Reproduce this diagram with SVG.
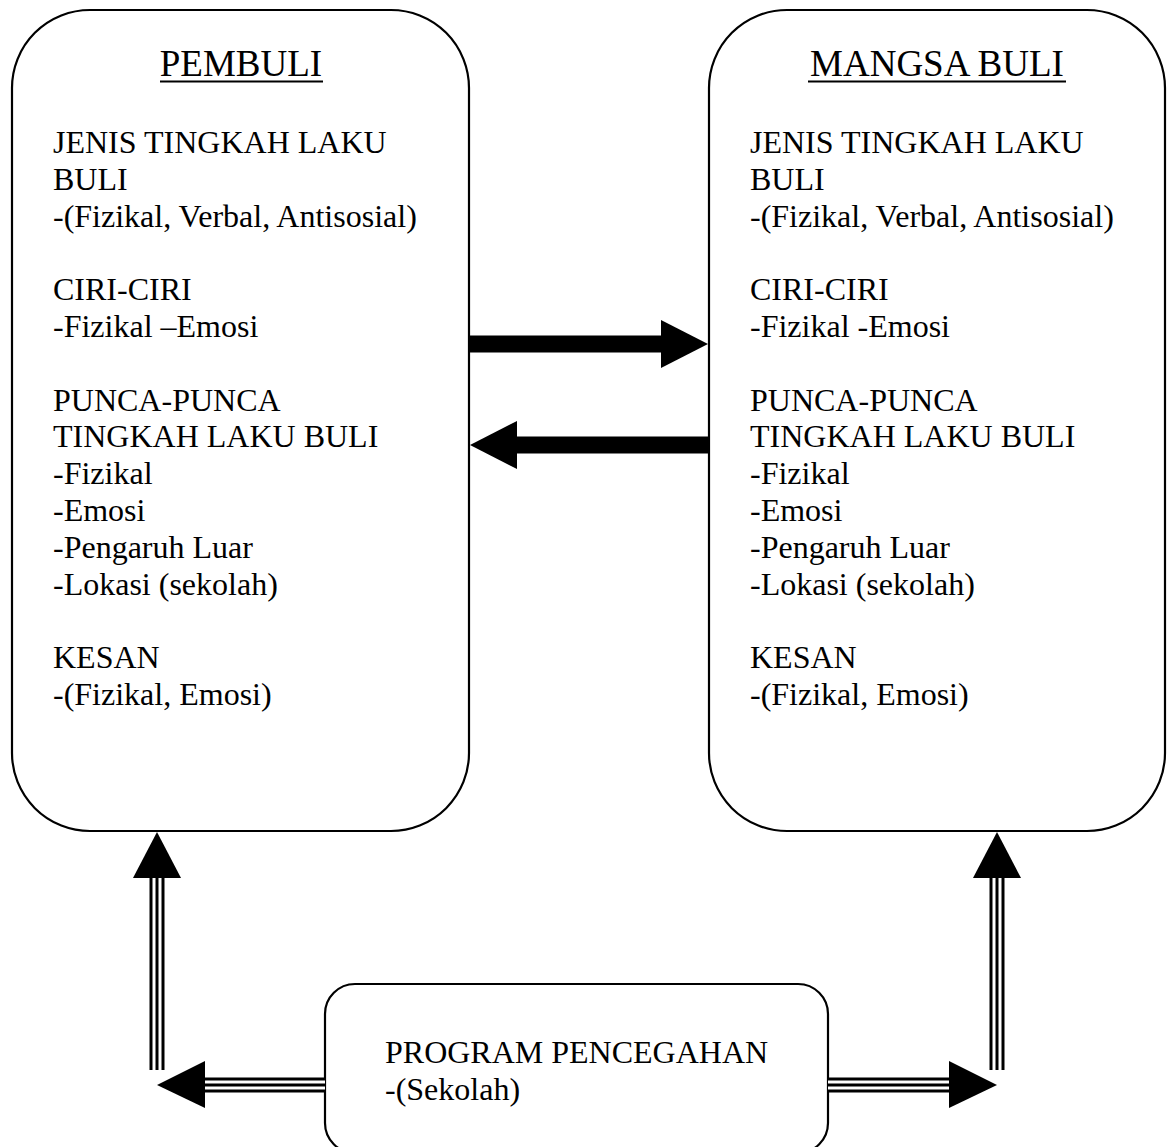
<svg xmlns="http://www.w3.org/2000/svg" width="1171" height="1147" viewBox="0 0 1171 1147">
<style>
.box{fill:#fff;stroke:#000;stroke-width:2.2}
.t{font-family:"Liberation Serif","Times New Roman",serif;font-size:32px;fill:#000}
.title{font-family:"Liberation Serif","Times New Roman",serif;font-size:37px;fill:#000;text-anchor:middle}
.ul{stroke:#000;stroke-width:2}
.tb{fill:none;stroke:#000;stroke-width:15}
.tw{fill:none;stroke:#fff;stroke-width:9}
.tc{fill:none;stroke:#000;stroke-width:3}
.head{fill:#000}
</style>
<rect width="1171" height="1147" fill="#fff"/>
<g id="pembuli">
<rect class="box" x="12" y="10" width="457" height="821" rx="78" ry="78"/>
<text class="title" x="241" y="76">PEMBULI</text>
<line class="ul" x1="160" y1="81.5" x2="323" y2="81.5"/>
<text class="t" x="53" y="153">
<tspan x="53" y="153">JENIS TINGKAH LAKU</tspan>
<tspan x="53" y="189.8">BULI</tspan>
<tspan x="53" y="226.6">-(Fizikal, Verbal, Antisosial)</tspan>
<tspan x="53" y="300.2">CIRI-CIRI</tspan>
<tspan x="53" y="337">-Fizikal –Emosi</tspan>
<tspan x="53" y="410.6">PUNCA-PUNCA</tspan>
<tspan x="53" y="447.4">TINGKAH LAKU BULI</tspan>
<tspan x="53" y="484.2">-Fizikal</tspan>
<tspan x="53" y="521">-Emosi</tspan>
<tspan x="53" y="557.8">-Pengaruh Luar</tspan>
<tspan x="53" y="594.6">-Lokasi (sekolah)</tspan>
<tspan x="53" y="668.2">KESAN</tspan>
<tspan x="53" y="705">-(Fizikal, Emosi)</tspan>
</text>
</g>
<g id="mangsa">
<rect class="box" x="709" y="10" width="456" height="821" rx="78" ry="78"/>
<text class="title" x="937" y="76">MANGSA BULI</text>
<line class="ul" x1="808" y1="81.5" x2="1066" y2="81.5"/>
<text class="t" x="750" y="153">
<tspan x="750" y="153">JENIS TINGKAH LAKU</tspan>
<tspan x="750" y="189.8">BULI</tspan>
<tspan x="750" y="226.6">-(Fizikal, Verbal, Antisosial)</tspan>
<tspan x="750" y="300.2">CIRI-CIRI</tspan>
<tspan x="750" y="337">-Fizikal -Emosi</tspan>
<tspan x="750" y="410.6">PUNCA-PUNCA</tspan>
<tspan x="750" y="447.4">TINGKAH LAKU BULI</tspan>
<tspan x="750" y="484.2">-Fizikal</tspan>
<tspan x="750" y="521">-Emosi</tspan>
<tspan x="750" y="557.8">-Pengaruh Luar</tspan>
<tspan x="750" y="594.6">-Lokasi (sekolah)</tspan>
<tspan x="750" y="668.2">KESAN</tspan>
<tspan x="750" y="705">-(Fizikal, Emosi)</tspan>
</text>
</g>
<g id="program">
<rect class="box" x="325" y="984" width="503" height="169" rx="30" ry="30"/>
<text class="t" x="385" y="1063">
<tspan x="385" y="1063">PROGRAM PENCEGAHAN</tspan>
<tspan x="385" y="1100">-(Sekolah)</tspan>
</text>
</g>
<g id="connectors">
<rect x="469" y="335.5" width="193" height="17" fill="#000"/>
<polygon class="head" points="661,320 708,344 661,368"/>
<rect x="516" y="436.5" width="193" height="17" fill="#000"/>
<polygon class="head" points="517,421 470,445 517,469"/>
<path class="tb" d="M157,1070 V877"/>
<path class="tw" d="M157,1070 V877"/>
<path class="tc" d="M157,1070 V877"/>
<polygon class="head" points="133,878 157,832 181,878"/>
<path class="tb" d="M325,1085 H204"/>
<path class="tw" d="M325,1085 H204"/>
<path class="tc" d="M325,1085 H204"/>
<polygon class="head" points="205,1061 157,1085 205,1108"/>
<path class="tb" d="M997,1070 V877"/>
<path class="tw" d="M997,1070 V877"/>
<path class="tc" d="M997,1070 V877"/>
<polygon class="head" points="973,878 997,832 1021,878"/>
<path class="tb" d="M828,1085 H950"/>
<path class="tw" d="M828,1085 H950"/>
<path class="tc" d="M828,1085 H950"/>
<polygon class="head" points="949,1061 997,1085 949,1108"/>
</g>
</svg>
